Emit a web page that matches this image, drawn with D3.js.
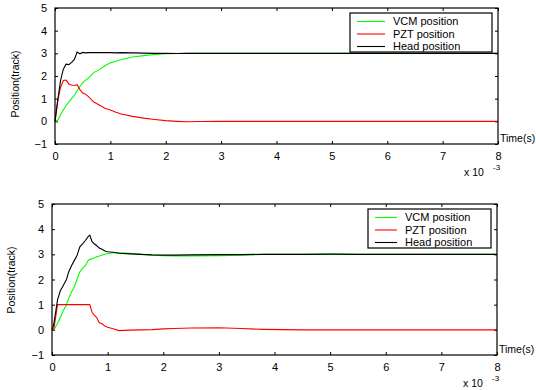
<!DOCTYPE html>
<html lang="en">
<head>
<meta charset="utf-8">
<title>VCM / PZT / Head position</title>
<script src="https://d3js.org/d3.v7.min.js"></script>
<style>
    body { margin: 0; background: #fff; }
    svg { display: block; font-family: "Liberation Sans", Arial, sans-serif; }
    .tick text { font-size: 11px; fill: #000; }
    .lbl { font-size: 10.5px; fill: #000; }
    .legend text { font-size: 11px; fill: #000; }
</style>
</head>
<body>
<div id="chart"></div>
<script>
    const w = 536, h = 390;

    const xTicks = [0, 1, 2, 3, 4, 5, 6, 7, 8];
    const yTicks = [-1, 0, 1, 2, 3, 4, 5];
    const seriesNames = ["VCM position", "PZT position", "Head position"];
    const seriesColors = ["#00ff00", "#ff0000", "#000000"];

    // upper panel (time in ms, i.e. x 10^-3 s)
    const timeA = [0, 0.05, 0.1, 0.15, 0.2, 0.25, 0.3, 0.35, 0.4, 0.45, 0.5, 0.55, 0.6, 0.7, 0.8, 0.9, 1.0, 1.1, 1.2, 1.4, 1.6, 1.8, 2.0, 2.2, 2.4, 2.6, 3.0, 3.5, 4.0, 5.0, 6.0, 7.0, 8.0];
    const vcmA = [0, 0.05, 0.3, 0.5, 0.7, 0.85, 1.0, 1.15, 1.35, 1.55, 1.7, 1.82, 1.9, 2.15, 2.28, 2.45, 2.58, 2.65, 2.73, 2.84, 2.9, 2.95, 2.98, 2.99, 3.0, 3.0, 3.0, 3.0, 3.0, 3.0, 3.01, 3.0, 3.0];
    const pztA = [0, 0.9, 1.5, 1.8, 1.82, 1.65, 1.6, 1.58, 1.62, 1.4, 1.25, 1.2, 1.1, 0.85, 0.72, 0.58, 0.5, 0.4, 0.32, 0.22, 0.14, 0.08, 0.03, 0.0, -0.02, -0.01, 0, 0, 0, 0, 0, 0, 0];
    const headA = [0, 0.95, 1.8, 2.3, 2.52, 2.5, 2.6, 2.73, 3.06, 2.98, 3.04, 3.02, 3.03, 3.04, 3.03, 3.04, 3.03, 3.02, 3.03, 3.02, 3.01, 3.0, 3.0, 2.99, 3.0, 3.0, 3.0, 3.0, 3.0, 3.0, 3.0, 3.0, 3.0];

    // lower panel
    const timeB = [0, 0.03, 0.1, 0.15, 0.2, 0.26, 0.3, 0.35, 0.4, 0.45, 0.5, 0.55, 0.6, 0.65, 0.68, 0.72, 0.76, 0.8, 0.85, 0.9, 0.95, 1.0, 1.1, 1.2, 1.4, 1.6, 1.8, 2.0, 2.2, 2.5, 3.0, 3.4, 3.8, 4.5, 5.0, 5.5, 6.0, 7.0, 8.0];
    const vcmB = [0, 0, 0.25, 0.5, 0.75, 1.0, 1.25, 1.5, 1.7, 2.0, 2.3, 2.45, 2.55, 2.75, 2.8, 2.82, 2.85, 2.9, 2.93, 2.97, 3.0, 3.03, 3.06, 3.07, 3.04, 3.0, 2.97, 2.95, 2.94, 2.94, 2.95, 2.97, 3.0, 3.0, 3.01, 3.0, 3.0, 3.0, 3.0];
    const pztB = [0, 0, 1, 1, 1, 1, 1, 1, 1, 1, 1, 1, 1, 1, 1, 0.7, 0.58, 0.5, 0.28, 0.24, 0.15, 0.1, 0.04, -0.03, -0.01, 0, 0.01, 0.04, 0.05, 0.07, 0.08, 0.05, 0.02, 0, 0, 0, 0, 0, 0];
    const headB = [0, 0.2, 1.2, 1.55, 1.75, 2.0, 2.3, 2.55, 2.75, 2.95, 3.3, 3.42, 3.55, 3.7, 3.76, 3.5, 3.42, 3.35, 3.25, 3.2, 3.13, 3.1, 3.08, 3.04, 3.02, 3.0, 2.98, 2.97, 2.97, 2.98, 2.99, 2.99, 3.0, 3.0, 3.01, 3.0, 3.0, 3.0, 3.0];

    const svg = d3.select("#chart").append("svg")
        .attr("width", w).attr("height", h)
        .style("background", "#fff");

    function panel(opt) {
        const x = d3.scaleLinear().domain([0, 8]).range([opt.left, opt.right]);
        const y = d3.scaleLinear().domain([-1, 5]).range([opt.bottom, opt.top]);
        const g = svg.append("g");

        // ticks (inside, all four sides)
        g.append("g").attr("transform", "translate(0," + opt.bottom + ")")
            .call(d3.axisBottom(x).tickValues(xTicks).tickSize(-3).tickPadding(8).tickFormat(d3.format("d")))
            .call(a => a.select(".domain").remove());
        g.append("g").attr("transform", "translate(0," + opt.top + ")")
            .call(d3.axisTop(x).tickValues(xTicks).tickSize(-3).tickFormat(""))
            .call(a => a.select(".domain").remove());
        g.append("g").attr("transform", "translate(" + opt.left + ",0)")
            .call(d3.axisLeft(y).tickValues(yTicks).tickSize(-3).tickPadding(8).tickFormat(d3.format("d")))
            .call(a => a.select(".domain").remove());
        g.append("g").attr("transform", "translate(" + opt.right + ",0)")
            .call(d3.axisRight(y).tickValues(yTicks).tickSize(-3).tickFormat(""))
            .call(a => a.select(".domain").remove());

        // series
        const line = d3.line().x(d => x(d[0])).y(d => y(d[1]));
        opt.series.forEach((s, i) => {
            g.append("path")
                .datum(opt.time.map((t, k) => [t, s[k]]))
                .attr("fill", "none")
                .attr("stroke", seriesColors[i])
                .attr("stroke-width", 1.1)
                .attr("d", line);
        });

        // box
        g.append("rect")
            .attr("x", opt.left).attr("y", opt.top)
            .attr("width", opt.right - opt.left).attr("height", opt.bottom - opt.top)
            .attr("fill", "none").attr("stroke", "#000").attr("stroke-width", 1.2);

        // labels
        g.append("text").attr("class", "lbl")
            .attr("transform", "translate(" + opt.ylabX + "," + opt.ylabY + ") rotate(-90)")
            .attr("text-anchor", "middle").attr("dy", "0.35em")
            .text("Position(track)");
        g.append("text").attr("class", "lbl")
            .attr("x", opt.right + 2).attr("y", opt.bottom - 2)
            .text("Time(s)");
        g.append("text").attr("class", "lbl")
            .attr("x", opt.right - 34).attr("y", opt.bottom + 32)
            .text("x 10");
        g.append("text").attr("class", "lbl").style("font-size", "8px")
            .attr("x", opt.right - 5).attr("y", opt.bottom + 26)
            .text("-3");

        // legend
        const lg = g.append("g").attr("class", "legend");
        lg.append("rect")
            .attr("x", opt.legX).attr("y", opt.legY)
            .attr("width", opt.legW).attr("height", 39)
            .attr("fill", "#fff").attr("stroke", "#000").attr("stroke-width", 1.2);
        seriesNames.forEach((n, i) => {
            const yy = opt.legY + 8.5 + i * 12.5;
            lg.append("line")
                .attr("x1", opt.legX + 7).attr("x2", opt.legX + 7 + opt.sample)
                .attr("y1", yy).attr("y2", yy)
                .attr("stroke", seriesColors[i]).attr("stroke-width", 1.1);
            lg.append("text")
                .attr("x", opt.legX + 15 + opt.sample).attr("y", yy).attr("dy", "0.35em")
                .text(n);
        });
    }

    panel({
        left: 55, right: 498, top: 8, bottom: 144,
        time: timeA, series: [vcmA, pztA, headA],
        ylabX: 15, ylabY: 84,
        legX: 350, legY: 13, legW: 142, sample: 28
    });

    panel({
        left: 52, right: 497, top: 204, bottom: 355,
        time: timeB, series: [vcmB, pztB, headB],
        ylabX: 11, ylabY: 280,
        legX: 368, legY: 209, legW: 123, sample: 22
    });
</script>
</body>
</html>
